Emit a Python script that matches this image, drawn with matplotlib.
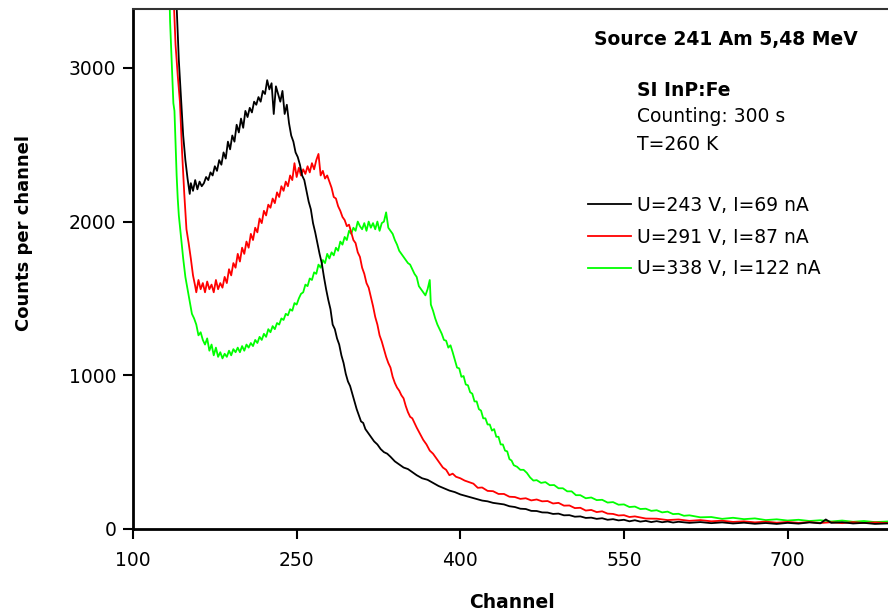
"""Alpha spectra of SI InP:Fe detector (241Am source) at three bias voltages."""

import matplotlib
matplotlib.use("Agg")
import matplotlib.pyplot as plt
from matplotlib.lines import Line2D

plt.rcParams["font.family"] = ["DejaVu Sans"]

# --- data: channel / counts per channel (10 per row) ---
ch_243 = [136, 138, 140, 142, 144, 146, 148, 150, 151, 152,
          153, 155, 157, 159, 161, 163, 165, 167, 169, 171,
          173, 175, 177, 179, 181, 183, 185, 187, 189, 191,
          193, 195, 197, 199, 201, 203, 205, 207, 209, 211,
          213, 215, 217, 219, 221, 223, 225, 227, 229, 231,
          233, 235, 237, 239, 241, 243, 245, 247, 249, 251,
          253, 255, 257, 259, 261, 263, 265, 267, 269, 271,
          273, 275, 277, 279, 281, 283, 285, 287, 289, 291,
          293, 295, 297, 299, 301, 303, 305, 307, 309, 311,
          313, 315, 318, 321, 324, 327, 330, 333, 336, 340,
          344, 348, 352, 356, 360, 365, 370, 375, 380, 385,
          390, 395, 400, 405, 410, 415, 420, 425, 430, 435,
          440, 445, 450, 455, 460, 465, 470, 475, 480, 485,
          490, 495, 500, 505, 510, 515, 520, 525, 530, 535,
          540, 545, 550, 555, 560, 565, 570, 575, 580, 585,
          590, 595, 600, 610, 620, 630, 640, 650, 660, 670,
          680, 690, 700, 710, 720, 730, 735, 740, 750, 760,
          770, 780, 795]
cnt_243 = [4600, 3900, 3400, 3050, 2800, 2560, 2400, 2280, 2230, 2180,
           2250, 2200, 2270, 2210, 2260, 2230, 2250, 2290, 2270, 2320,
           2300, 2360, 2330, 2400, 2370, 2450, 2410, 2520, 2470, 2560,
           2520, 2630, 2580, 2670, 2610, 2720, 2680, 2740, 2710, 2780,
           2760, 2810, 2780, 2850, 2830, 2920, 2860, 2900, 2700, 2880,
           2830, 2780, 2850, 2700, 2760, 2640, 2560, 2520, 2450, 2420,
           2370, 2300, 2270, 2200, 2130, 2080, 1990, 1930, 1860, 1790,
           1730, 1640, 1560, 1490, 1430, 1330, 1300, 1240, 1200, 1130,
           1080, 1010, 960, 930, 880, 830, 780, 740, 700, 690,
           650, 630, 600, 570, 550, 520, 500, 490, 470, 440,
           420, 400, 390, 370, 350, 330, 320, 300, 280, 265,
           250, 240, 225, 215, 205, 195, 185, 180, 170, 165,
           160, 148, 143, 132, 130, 118, 117, 108, 107, 98,
           100, 89, 90, 80, 82, 72, 74, 66, 70, 60,
           64, 56, 60, 50, 57, 48, 53, 45, 51, 44,
           49, 42, 47, 40, 45, 38, 43, 36, 41, 34,
           39, 33, 40, 35, 43, 37, 62, 40, 44, 36,
           40, 33, 37]

ch_291 = [133, 135, 137, 139, 141, 143, 145, 147, 149, 151,
          153, 155, 157, 158, 160, 162, 164, 166, 168, 170,
          172, 174, 176, 178, 180, 182, 184, 186, 188, 190,
          192, 194, 196, 198, 200, 202, 204, 206, 208, 210,
          212, 214, 216, 218, 220, 222, 224, 226, 228, 230,
          232, 234, 236, 238, 240, 242, 244, 246, 248, 250,
          252, 254, 256, 258, 260, 262, 264, 266, 268, 270,
          272, 274, 276, 278, 280, 282, 284, 286, 288, 290,
          292, 294, 296, 298, 300, 302, 304, 306, 308, 310,
          312, 314, 316, 318, 320, 322, 324, 326, 328, 330,
          332, 334, 336, 338, 340, 342, 344, 346, 348, 350,
          352, 354, 356, 358, 360, 363, 366, 369, 372, 375,
          378, 381, 384, 387, 390, 393, 396, 400, 404, 408,
          412, 416, 420, 425, 430, 435, 440, 445, 450, 455,
          460, 465, 470, 475, 480, 485, 490, 495, 500, 505,
          510, 515, 520, 525, 530, 535, 540, 545, 550, 555,
          560, 570, 580, 590, 600, 610, 620, 630, 640, 650,
          660, 670, 680, 690, 700, 710, 720, 730, 740, 750,
          760, 770, 780, 795]
cnt_291 = [4800, 4100, 3500, 3150, 2950, 2780, 2450, 2180, 1950, 1860,
           1760, 1650, 1580, 1540, 1620, 1560, 1600, 1540, 1610, 1560,
           1590, 1540, 1620, 1560, 1600, 1570, 1640, 1600, 1690, 1650,
           1730, 1700, 1790, 1740, 1830, 1790, 1870, 1830, 1920, 1880,
           1960, 1930, 2020, 1990, 2070, 2040, 2110, 2090, 2150, 2120,
           2190, 2160, 2230, 2200, 2260, 2230, 2300, 2270, 2380, 2290,
           2350, 2300, 2340, 2310, 2360, 2320, 2380, 2340, 2400, 2440,
           2300, 2330, 2280, 2300, 2260, 2220, 2160, 2150, 2100, 2070,
           2030, 2010, 1970, 1980, 1930, 1880, 1860, 1800, 1770, 1700,
           1660, 1600, 1570, 1510, 1450, 1380, 1330, 1260, 1220, 1170,
           1120, 1080, 1050, 990, 950, 920, 900, 870, 850, 800,
           760, 730, 720, 690, 660, 620, 580, 550, 510, 490,
           460, 430, 400, 385, 350, 360, 340, 330, 315, 305,
           295, 268, 270, 248, 246, 228, 228, 210, 208, 196,
           200, 186, 192, 180, 182, 166, 170, 152, 153, 136,
           138, 120, 124, 110, 115, 100, 98, 88, 90, 78,
           82, 68, 67, 58, 62, 53, 58, 50, 54, 46,
           50, 43, 48, 41, 46, 40, 45, 39, 44, 38,
           45, 39, 43, 38]

ch_338 = [130, 132, 134, 136, 137, 138, 139, 140, 141, 142,
          144, 146, 148, 150, 152, 154, 156, 158, 160, 162,
          164, 166, 168, 170, 172, 174, 176, 178, 180, 182,
          184, 186, 188, 190, 192, 194, 196, 198, 200, 202,
          204, 206, 208, 210, 212, 214, 216, 218, 220, 222,
          224, 226, 228, 230, 232, 234, 236, 238, 240, 242,
          244, 246, 248, 250, 252, 254, 256, 258, 260, 262,
          264, 266, 268, 270, 272, 274, 276, 278, 280, 282,
          284, 286, 288, 290, 292, 294, 296, 298, 300, 302,
          304, 306, 308, 310, 312, 314, 316, 318, 320, 322,
          324, 326, 328, 330, 332, 334, 336, 338, 340, 342,
          344, 346, 348, 350, 352, 354, 356, 358, 360, 362,
          364, 366, 368, 370, 372, 373, 375, 377, 379, 381,
          383, 385, 387, 389, 391, 393, 395, 397, 399, 401,
          403, 405, 407, 409, 411, 413, 415, 417, 419, 421,
          423, 425, 427, 429, 431, 433, 435, 437, 439, 441,
          443, 445, 447, 449, 452, 455, 458, 461, 464, 467,
          470, 474, 478, 482, 486, 490, 494, 498, 502, 506,
          510, 515, 520, 525, 530, 535, 540, 545, 550, 555,
          560, 565, 570, 575, 580, 585, 590, 595, 600, 605,
          610, 620, 630, 640, 650, 660, 670, 680, 690, 700,
          710, 720, 730, 740, 750, 760, 770, 780, 795]
cnt_338 = [4700, 3900, 3300, 2950, 2770, 2720, 2500, 2300, 2150, 2040,
           1900, 1760, 1640, 1560, 1480, 1400, 1370, 1330, 1260, 1280,
           1230, 1200, 1240, 1160, 1200, 1130, 1180, 1120, 1150, 1110,
           1140, 1120, 1160, 1130, 1170, 1150, 1180, 1150, 1190, 1160,
           1200, 1180, 1210, 1190, 1230, 1210, 1250, 1230, 1270, 1250,
           1300, 1280, 1320, 1300, 1340, 1330, 1370, 1360, 1400, 1390,
           1430, 1420, 1470, 1460, 1500, 1530, 1540, 1590, 1580, 1630,
           1620, 1670, 1660, 1720, 1700, 1750, 1730, 1790, 1760, 1800,
           1780, 1830, 1810, 1870, 1850, 1900, 1880, 1940, 1920, 1960,
           1940, 2000, 1970, 1950, 1990, 1940, 2000, 1960, 1990, 1950,
           2000, 1940, 1990, 2000, 2060, 1960, 1940, 1920, 1880, 1850,
           1810, 1790, 1770, 1750, 1730, 1720, 1690, 1660, 1640, 1580,
           1560, 1540, 1520, 1560, 1620, 1460, 1420, 1370, 1330, 1300,
           1270, 1230, 1225, 1180, 1195, 1150, 1100, 1050, 1045, 990,
           995, 940, 935, 890, 880, 830, 830, 780, 770, 720,
           720, 680, 680, 640, 650, 600, 600, 550, 550, 510,
           505, 455, 445, 415, 405, 385, 385, 365, 335, 315,
           318, 300, 305, 285, 286, 265, 265, 245, 245, 220,
           220, 200, 205, 188, 190, 172, 175, 158, 160, 143,
           146, 130, 132, 118, 122, 108, 113, 97, 99, 86,
           89, 76, 78, 66, 73, 64, 69, 58, 63, 55,
           60, 52, 57, 49, 55, 47, 52, 45, 50]

labels = ["U=243 V, I=69 nA", "U=291 V, I=87 nA", "U=338 V, I=122 nA"]
colors = ["#000000", "#ff0000", "#00ff00"]

x_ticks = [100, 250, 400, 550, 700]
y_ticks = [0, 1000, 2000, 3000]

W, H = 888, 616
fig = plt.figure(figsize=(W / 100, H / 100), dpi=100)
ax = fig.add_axes([133 / W, 1 - 529 / H, 1 - 133 / W, (529 - 9) / H])

series = [(ch_243, cnt_243), (ch_291, cnt_291), (ch_338, cnt_338)]
# green drawn first so black/red sit on top like the original
for (x, y), c in list(zip(series, colors))[::-1]:
    ax.plot(x, y, color=c, lw=1.3)

ax.set_xlim(100, 792)
ax.set_ylim(0, 3383)
ax.set_xticks(x_ticks)
ax.set_yticks(y_ticks)
ax.tick_params(direction="out", length=7, width=1.5, labelsize=13.5)
ax.tick_params(axis="x", pad=9)
ax.tick_params(axis="y", pad=5)
for s in ("left", "bottom"):
    ax.spines[s].set_linewidth(2)
ax.spines["top"].set_linewidth(1.5)
ax.spines["top"].set_color("#333333")
ax.spines["right"].set_visible(False)

ax.set_xlabel("Channel", fontsize=13.5, fontweight="bold")
ax.xaxis.set_label_coords(0.502, -0.124)
ax.set_ylabel("Counts per channel", fontsize=13, fontweight="bold")
ax.yaxis.set_label_coords(-0.132, 0.569)

# annotation block
fig.text(726 / W, 1 - 40 / H, "Source 241 Am 5,48 MeV", fontsize=13.5, fontweight="bold",
         ha="center", va="center")
fig.text(637 / W, 1 - 90 / H, "SI InP:Fe", fontsize=13.5, fontweight="bold", va="center")
fig.text(637 / W, 1 - 117 / H, "Counting: 300 s", fontsize=13.5, va="center")
fig.text(637 / W, 1 - 144 / H, "T=260 K", fontsize=13.5, va="center")

handles = [Line2D([], [], color=c, lw=1.3) for c in colors]
ax.legend(handles, labels, loc="upper left", bbox_to_anchor=(588 / W, 1 - 196 / H),
          bbox_transform=fig.transFigure, frameon=False, fontsize=13.5,
          handlelength=2.3, handletextpad=0.33, labelspacing=0.68, borderpad=0,
          borderaxespad=0)

fig.savefig("out.png", dpi=100)
